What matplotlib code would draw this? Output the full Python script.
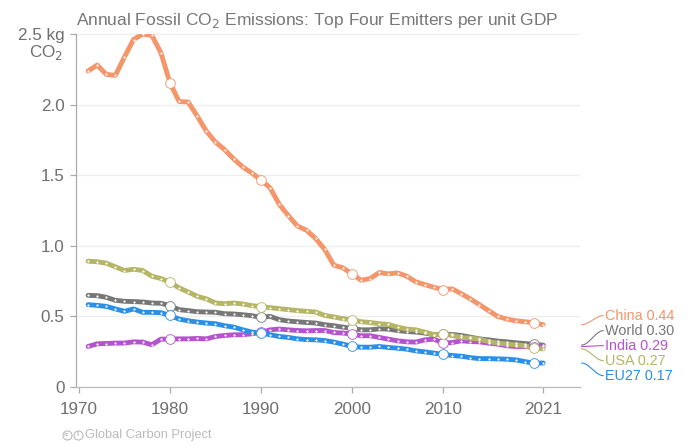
import numpy as np
import matplotlib
matplotlib.use("Agg")
import matplotlib.pyplot as plt
from matplotlib.lines import Line2D

plt.rcParams['font.family'] = ['Liberation Sans', 'DejaVu Sans']

years = list(range(1971, 2022))

china = [2.238, 2.280, 2.214, 2.207, 2.338, 2.461, 2.499, 2.490, 2.368, 2.153,
         2.022, 2.018, 1.918, 1.811, 1.735, 1.681, 1.615, 1.558, 1.515, 1.467,
         1.410, 1.294, 1.214, 1.140, 1.110, 1.052, 0.974, 0.863, 0.844, 0.801,
         0.756, 0.768, 0.811, 0.801, 0.808, 0.785, 0.745, 0.725, 0.706, 0.690,
         0.695, 0.661, 0.624, 0.583, 0.541, 0.500, 0.481, 0.469, 0.462, 0.455, 0.441]
usa = [0.891, 0.887, 0.877, 0.851, 0.825, 0.834, 0.825, 0.785, 0.768, 0.742,
       0.702, 0.673, 0.642, 0.624, 0.595, 0.590, 0.595, 0.588, 0.576, 0.569,
       0.562, 0.555, 0.548, 0.541, 0.536, 0.531, 0.507, 0.496, 0.484, 0.477,
       0.462, 0.457, 0.448, 0.443, 0.424, 0.410, 0.405, 0.389, 0.370, 0.375,
       0.365, 0.351, 0.346, 0.339, 0.322, 0.311, 0.304, 0.299, 0.292, 0.275, 0.270]
world = [0.649, 0.647, 0.635, 0.614, 0.607, 0.605, 0.602, 0.595, 0.593, 0.576,
         0.548, 0.541, 0.533, 0.531, 0.529, 0.519, 0.517, 0.512, 0.505, 0.493,
         0.500, 0.477, 0.467, 0.462, 0.457, 0.453, 0.441, 0.434, 0.424, 0.415,
         0.405, 0.405, 0.412, 0.410, 0.400, 0.393, 0.389, 0.382, 0.370, 0.375,
         0.372, 0.365, 0.353, 0.341, 0.334, 0.325, 0.320, 0.313, 0.308, 0.301, 0.297]
eu27 = [0.583, 0.578, 0.571, 0.553, 0.536, 0.553, 0.529, 0.529, 0.526, 0.507,
        0.481, 0.469, 0.460, 0.453, 0.448, 0.434, 0.424, 0.405, 0.389, 0.382,
        0.370, 0.358, 0.351, 0.341, 0.336, 0.334, 0.329, 0.318, 0.304, 0.287,
        0.282, 0.282, 0.287, 0.280, 0.275, 0.268, 0.256, 0.249, 0.240, 0.232,
        0.223, 0.218, 0.208, 0.201, 0.201, 0.199, 0.197, 0.192, 0.180, 0.168, 0.170]
india = [0.287, 0.306, 0.308, 0.311, 0.311, 0.320, 0.318, 0.299, 0.339, 0.339,
         0.341, 0.341, 0.344, 0.341, 0.358, 0.365, 0.370, 0.370, 0.377, 0.386,
         0.405, 0.410, 0.405, 0.400, 0.398, 0.400, 0.400, 0.386, 0.382, 0.375,
         0.363, 0.363, 0.351, 0.339, 0.327, 0.320, 0.318, 0.334, 0.339, 0.311,
         0.315, 0.327, 0.322, 0.320, 0.311, 0.304, 0.292, 0.287, 0.287, 0.280, 0.287]

names = ["China", "World", "India", "USA", "EU27"]
label_values = ["0.44", "0.30", "0.29", "0.27", "0.17"]
colors = ["#F4956A", "#777777", "#B553CF", "#B5B565", "#2A8FE6"]
series = [china, world, india, usa, eu27]

xticks = [1970, 1980, 1990, 2000, 2010, 2021]
yticks = [0, 0.5, 1.0, 1.5, 2.0, 2.5]
ytick_labels = ["0", "0.5", "1.0", "1.5", "2.0", "2.5 kg"]
decades = [1980, 1990, 2000, 2010, 2020]

W, H = 698, 446
fig = plt.figure(figsize=(W / 100, H / 100), dpi=100)
ax = fig.add_axes([75.7 / W, 59 / H, (580 - 75.7) / W, (387 - 34) / H])
ax.set_xlim(1969.64, 2025.05)
ax.set_ylim(0, 2.5)

for s in ["top", "right"]:
    ax.spines[s].set_visible(False)
ax.spines["left"].set_color("#aaaaaa")
ax.spines["bottom"].set_color("#bbbbbb")
ax.spines["left"].set_linewidth(0.9)
ax.spines["bottom"].set_linewidth(0.9)
ax.set_yticks(yticks)
ax.set_yticklabels(ytick_labels)
ax.set_xticks(xticks)
ax.set_xticklabels([str(x) for x in xticks])
ax.tick_params(axis="both", colors="#aaaaaa", labelcolor="#6f6f6f", labelsize=12.3, length=4, width=0.9)
ax.tick_params(axis="x", pad=7)
ax.tick_params(axis="y", pad=4)
ax.grid(axis="y", color="#eeeeee", linewidth=0.9)
ax.set_axisbelow(True)

draw_order = [4, 2, 3, 1, 0]
for i in draw_order:
    vals = series[i]
    c = colors[i]
    ax.plot(years, vals, color=c, lw=3.5, solid_capstyle="round", solid_joinstyle="round", zorder=3 + i * 0.01)
    ax.plot(years, vals, linestyle="none", marker="o", ms=1.6, mfc="white", mec="none", zorder=3.1 + i * 0.01)
    dx = [y for y in decades]
    dy = [vals[years.index(y)] for y in decades]
    ax.plot(dx, dy, linestyle="none", marker="o", ms=7, mfc="white", mec=c, mew=0.6, zorder=3.2 + i * 0.01)

# right-side labels with connectors
ends = [s[-1] for s in series]
px_per_unit = ax.get_position().height * H / 2.5
spacing = 15 / px_per_unit
center = np.mean(ends)
order = np.argsort(ends)[::-1]
label_y = {}
for rank, idx in enumerate(order):
    label_y[idx] = center + (2 - rank) * spacing

x0, x1, xt = 2025.24, 2027.6, 2027.85
t = np.linspace(0, 1, 40)
smooth = t * t * (3 - 2 * t)
for i in range(len(series)):
    y0 = ends[i]
    y1 = label_y[i]
    ax.plot(x0 + (x1 - x0) * t, y0 + (y1 - y0) * smooth, color=colors[i], lw=0.8, clip_on=False)
    ax.text(xt, y1, f"{names[i]} {label_values[i]}", color=colors[i], fontsize=10.4,
            va="center", ha="left", clip_on=False)

# title and unit label
fig.text(76 / W, 1 - 20 / H, "Annual Fossil CO$_2$ Emissions: Top Four Emitters per unit GDP",
         fontsize=12.5, color="#777777", va="center", ha="left")
fig.text(63.5 / W, 1 - 57 / H, "CO$_2$", fontsize=12.3, color="#6f6f6f", va="baseline", ha="right")

# footer
fy = 1 - 435 / H
for cx, sym in [(66.5, "cc"), (77.5, "i")]:
    fig.add_artist(Line2D([cx / W], [fy], marker="o", ms=6.5, mfc="none", mec="#bbbbbb",
                          mew=0.8, transform=fig.transFigure))
    fig.text(cx / W, fy, sym, fontsize=3.6 if sym == "cc" else 5, color="#bbbbbb",
             ha="center", va="center", fontweight="bold")
fig.text(85 / W, fy, "Global Carbon Project", fontsize=9.3, color="#bbbbbb", va="center", ha="left")

fig.savefig("out.png", dpi=100)
